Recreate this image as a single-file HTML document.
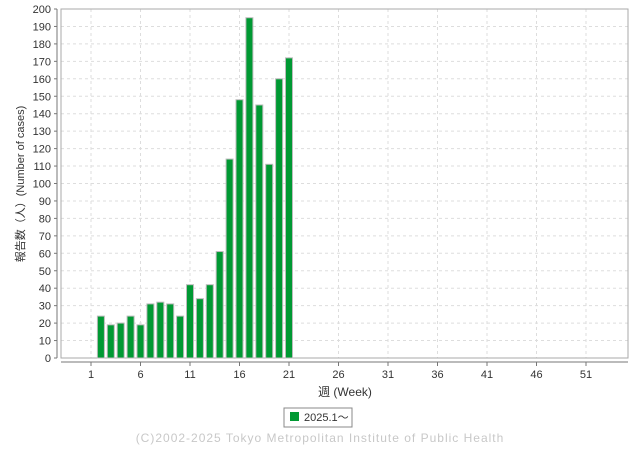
<!DOCTYPE html>
<html><head><meta charset="utf-8"><style>
body{margin:0;background:#fff;font-family:"Liberation Sans","Noto Sans CJK JP",sans-serif}
</style></head><body>
<svg width="640" height="450" xmlns="http://www.w3.org/2000/svg" font-family="Liberation Sans, Noto Sans CJK JP, sans-serif">
<g id="grid"></g>
<rect x="61" y="9" width="567" height="349" fill="none" stroke="#aaa"/>
<line x1="57" y1="9" x2="57" y2="358" stroke="#777"/>
<line x1="61" y1="362" x2="628" y2="362" stroke="#777"/>
<g id="bars"></g>
<g id="ticks" font-size="11" fill="#333"></g>
<text x="345" y="396" font-size="12" text-anchor="middle" fill="#333">週 (Week)</text>
<text transform="translate(24,184) rotate(-90)" font-size="11" text-anchor="middle" fill="#333">報告数（人）(Number of cases)</text>
<g>
<rect x="284" y="408" width="68" height="19" fill="#fff" stroke="#888"/>
<rect x="290" y="412" width="9" height="9" fill="#009933"/>
<text x="304" y="421" font-size="11" fill="#333">2025.1～</text>
</g>
<text x="320" y="442" font-size="12" text-anchor="middle" fill="#c8c8c8" letter-spacing="1">(C)2002-2025 Tokyo Metropolitan Institute of Public Health</text>
</svg>
<script>
const weeks=[2,3,4,5,6,7,8,9,10,11,12,13,14,15,16,17,18,19,20,21];
const cases=[24,19,20,24,19,31,32,31,24,42,34,42,61,114,148,195,145,111,160,172];
const yTicks=[0,10,20,30,40,50,60,70,80,90,100,110,120,130,140,150,160,170,180,190,200];
const xTicks=[1,6,11,16,21,26,31,36,41,46,51];
const NS="http://www.w3.org/2000/svg";
const x=w=>91+9.9*(w-1);
const y=v=>358-v*1.745;
function mk(t,a,p){const e=document.createElementNS(NS,t);for(const k in a)e.setAttribute(k,a[k]);p.appendChild(e);return e;}
const grid=document.getElementById('grid'),bars=document.getElementById('bars'),ticks=document.getElementById('ticks');
yTicks.forEach(v=>{
 const g=mk('line',{x1:61,x2:628,y1:y(v),y2:y(v),stroke:'#ddd','stroke-dasharray':'3,3'},grid);
 
 
 mk('line',{x1:54,x2:57,y1:y(v),y2:y(v),stroke:'#777'},ticks);
 const t=mk('text',{x:51,y:y(v)+4,'text-anchor':'end'},ticks);t.textContent=v;
 
 
});
xTicks.forEach(w=>{
 const g=mk('line',{x1:x(w),x2:x(w),y1:9,y2:358,stroke:'#ddd','stroke-dasharray':'3,3'},grid);
 
 
 mk('line',{x1:x(w),x2:x(w),y1:362,y2:366,stroke:'#777'},ticks);
 const t=mk('text',{x:x(w),y:378,'text-anchor':'middle'},ticks);t.textContent=w;
 
 
});
weeks.forEach((w,i)=>{
 const b=mk('rect',{x:x(w)-3.5,y:y(cases[i]),width:7,height:358-y(cases[i]),fill:'#009933',stroke:'#bbb','stroke-width':1},bars);
 
 
});
</script>
</body></html>
